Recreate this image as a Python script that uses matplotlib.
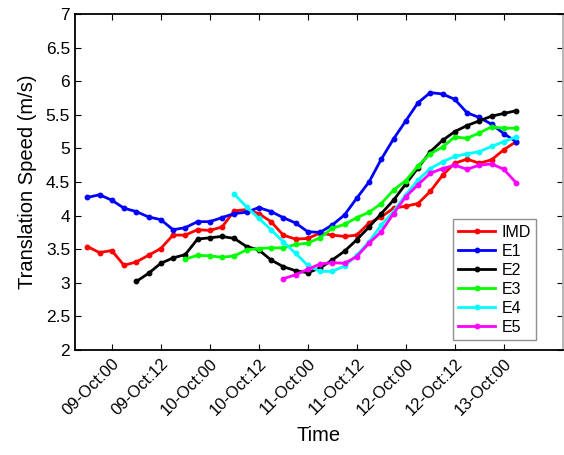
import matplotlib
matplotlib.use("Agg")
import matplotlib.pyplot as plt
import numpy as np

plt.rcParams['font.family'] = ['Liberation Sans', 'DejaVu Sans']

# hours after 09-Oct 00 UTC, 3-hourly
IMD_hours = np.arange(-6, 100, 3)
IMD = [3.54, 3.45, 3.48, 3.26, 3.31, 3.41, 3.51, 3.71, 3.71, 3.79, 3.78, 3.83,
       4.07, 4.09, 4.03, 3.91, 3.71, 3.65, 3.66, 3.74, 3.71, 3.69, 3.71, 3.89,
       3.98, 4.11, 4.14, 4.18, 4.36, 4.60, 4.78, 4.84, 4.78, 4.83, 4.98, 5.10]

E1_hours = np.arange(-6, 100, 3)
E1 = [4.27, 4.31, 4.23, 4.11, 4.06, 3.98, 3.94, 3.79, 3.82, 3.91, 3.91, 3.97,
      4.03, 4.05, 4.12, 4.06, 3.97, 3.89, 3.76, 3.75, 3.86, 4.01, 4.26, 4.50,
      4.84, 5.14, 5.41, 5.68, 5.83, 5.81, 5.73, 5.53, 5.46, 5.36, 5.22, 5.10]

E2_hours = np.arange(6, 100, 3)
E2 = [3.02, 3.14, 3.29, 3.37, 3.42, 3.65, 3.67, 3.69, 3.66, 3.54, 3.49, 3.34,
      3.24, 3.18, 3.15, 3.22, 3.34, 3.47, 3.64, 3.83, 4.03, 4.23, 4.47, 4.71,
      4.95, 5.12, 5.25, 5.34, 5.41, 5.48, 5.52, 5.56]

E3_hours = np.arange(18, 100, 3)
E3 = [3.35, 3.41, 3.40, 3.38, 3.40, 3.49, 3.51, 3.52, 3.52, 3.57, 3.59, 3.67,
      3.81, 3.87, 3.97, 4.05, 4.18, 4.38, 4.52, 4.74, 4.92, 5.02, 5.17, 5.15,
      5.23, 5.32, 5.30, 5.30]

E4_hours = np.arange(30, 100, 3)
E4 = [4.32, 4.13, 3.96, 3.79, 3.61, 3.44, 3.26, 3.17, 3.17, 3.25, 3.41, 3.61,
      3.86, 4.06, 4.31, 4.53, 4.70, 4.80, 4.88, 4.92, 4.95, 5.03, 5.10, 5.17]

E5_hours = np.arange(42, 100, 3)
E5 = [3.06, 3.12, 3.20, 3.28, 3.30, 3.29, 3.39, 3.59, 3.76, 4.03, 4.28, 4.46,
      4.63, 4.70, 4.75, 4.69, 4.75, 4.77, 4.69, 4.49]

tick_hours = np.arange(0, 97, 12)
tick_labels = ['09-Oct:00', '09-Oct:12', '10-Oct:00', '10-Oct:12', '11-Oct:00',
               '11-Oct:12', '12-Oct:00', '12-Oct:12', '13-Oct:00']

fig = plt.figure(figsize=(5.64, 4.55), dpi=100)
ax = fig.add_axes([75 / 564, 1 - 350 / 455, (563 - 75) / 564, (350 - 14) / 455])

series = [(IMD_hours, IMD, '#ff0000', 'IMD'),
          (E1_hours, E1, '#0000ff', 'E1'),
          (E2_hours, E2, '#000000', 'E2'),
          (E3_hours, E3, '#00ff00', 'E3'),
          (E4_hours, E4, '#00ffff', 'E4'),
          (E5_hours, E5, '#ff00ff', 'E5')]
for x, y, c, lab in series:
    ax.plot(x, y, '-o', color=c, lw=2, ms=3.2, label=lab)

ax.set_xlim(-9, 110.5)
ax.set_ylim(2, 7)
ax.set_yticks(np.arange(2, 7.01, 0.5))
ax.set_yticklabels(['2', '2.5', '3', '3.5', '4', '4.5', '5', '5.5', '6', '6.5', '7'])
ax.set_xticks(tick_hours)
ax.set_xticklabels(tick_labels, rotation=45, ha='right', rotation_mode='anchor')
ax.tick_params(direction='in', length=4, top=True, right=True, labelsize=12.5)
ax.tick_params(axis='x', labelsize=12, pad=4)
for s in ax.spines.values():
    s.set_linewidth(1.3)
ax.spines['right'].set_color('#b0b0b0')

ax.set_xlabel('Time', fontsize=14.5, labelpad=6)
ax.set_ylabel('Translation Speed (m/s)', fontsize=14.5, labelpad=6)

leg = ax.legend(loc='lower right', bbox_to_anchor=(0.955, 0.015), fontsize=11.5,
                fancybox=False, framealpha=1, edgecolor='#909090',
                handlelength=2.3, handletextpad=0.4, borderpad=0.35,
                labelspacing=0.25, borderaxespad=0.3)

fig.savefig('out.png', dpi=100)
